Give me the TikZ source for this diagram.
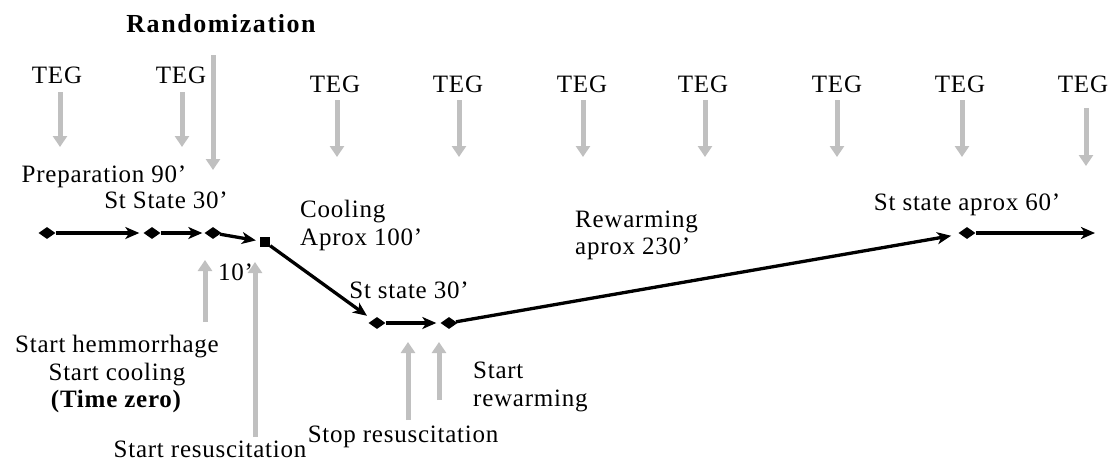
\documentclass[tikz,border=0pt]{standalone}
\usepackage{fontspec}
\setmainfont{Liberation Serif}[LetterSpace=3]
\newfontfamily\headfont{Liberation Serif}[LetterSpace=6]
\usetikzlibrary{arrows.meta,shapes.geometric}
\definecolor{arrgray}{RGB}{192,192,192}
\tikzset{
  lbl/.style={anchor=base, inner sep=0pt},
  lblw/.style={anchor=base west, inner sep=0pt},
  garrow/.style={draw=arrgray, line width=5pt, -{Triangle[width=14pt,length=11pt]}},
  blk/.style={line width=3.3pt, -{Stealth[length=14pt,width=12pt,inset=4pt]}},
  mk/.style={diamond, fill=black, inner sep=0pt, minimum width=17pt, minimum height=12pt},
  sqm/.style={rectangle, fill=black, inner sep=0pt, minimum size=10pt},
}
\begin{document}
\begin{tikzpicture}[x=1pt, y=-1pt, font=\fontsize{25}{29}\selectfont]
\useasboundingbox (0,0) rectangle (1109,461);

% heading and randomization arrow
\node[lbl, font=\fontsize{26}{30}\headfont\bfseries] (rand) at (221,32) {Randomization};
\coordinate (randtip) at (213,170);
\draw[garrow, shorten <=23pt] (rand.south -| randtip) -- (randtip);

% TEG sampling points
\foreach \n/\x/\y/\gx/\gap/\e in {1/57/83/60/9/147, 2/181/83/182/9/147, 3/335/92/337/8/157,
    4/458/92/459/8/157, 5/582/92/583/8/157, 6/703/92/705/8/157, 7/837/92/837/8/157,
    8/960/92/962/8/157, 9/1083/92/1086/16/166} {
  \node[lbl] (teg\n) at (\x,\y) {TEG};
  \coordinate (gt\n) at (\gx,\e);
  \draw[garrow, shorten <=\gap pt] (teg\n.south -| gt\n) -- (gt\n);
}

% timeline markers
\node[mk] (d1) at (47,233) {};
\node[mk] (d2) at (152,233) {};
\node[mk] (d3) at (213,233) {};
\node[sqm] (sq) at (265,242) {};
\node[mk] (d4) at (377,323) {};
\node[mk] (d5) at (449,323) {};
\node[mk] (d6) at (967,233) {};
\coordinate (tend) at (1095,233);

% timeline segments
\draw[blk, shorten >=4pt] (d1) -- (d2);
\draw[blk, shorten >=2pt] (d2) -- (d3);
\draw[blk, shorten >=4pt] (d3) -- (sq);
\draw[blk, shorten >=7pt] (sq) -- (d4);
\draw[blk, shorten >=4pt] (d4) -- (d5);
\draw[blk, shorten >=9pt] (d5) -- (d6);
\draw[blk] (d6) -- (tend);

% phase labels
\node[lbl] (prep) at (104,182) {Preparation 90’};
\node[lbl] (st1) at (166,208) {St State 30’};
\node[lblw] (ten) at (218,280) {10’};
\node[lblw] (cool1) at (300,217) {Cooling};
\node[lblw] (cool2) at (300,245) {Aprox 100’};
\node[lbl] (st2) at (409,298) {St state 30’};
\node[lblw] (rew1) at (575,227) {Rewarming};
\node[lblw] (rew2) at (575,254) {aprox 230’};
\node[lbl] (st3) at (967,210) {St state aprox 60’};

% event labels
\node[lbl] (hem1) at (117,352) {Start hemmorrhage};
\node[lbl] (hem2) at (117,380) {Start cooling};
\node[lbl] (hem3) at (116,407) {\bfseries (Time zero)};
\node[lbl] (res) at (210,457) {Start resuscitation};
\node[lbl] (stop) at (403,442) {Stop resuscitation};
\node[lblw] (rw1) at (473,378) {Start};
\node[lblw] (rw2) at (473,406) {rewarming};

% event arrows
\coordinate (u1a) at (205,322); \coordinate (u1b) at (205,260);
\coordinate (u2a) at (255,437); \coordinate (u2b) at (255,262);
\coordinate (u3a) at (408,420); \coordinate (u3b) at (408,342);
\coordinate (u4a) at (439,400); \coordinate (u4b) at (439,342);
\draw[garrow] (u1a) -- (u1b);
\draw[garrow] (u2a) -- (u2b);
\draw[garrow] (u3a) -- (u3b);
\draw[garrow] (u4a) -- (u4b);
\end{tikzpicture}
\end{document}
